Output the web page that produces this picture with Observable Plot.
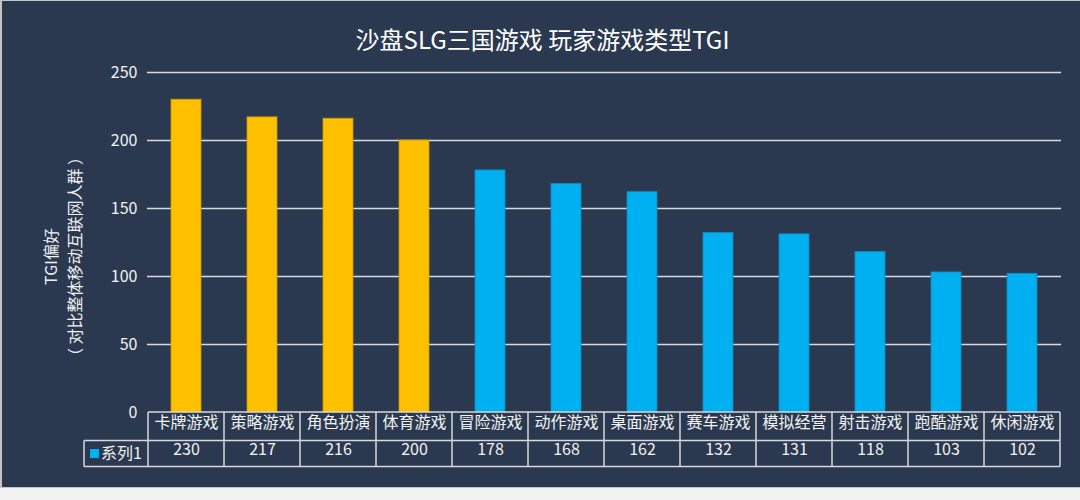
<!DOCTYPE html>
<html><head><meta charset="utf-8">
<script src="https://cdn.jsdelivr.net/npm/d3@7"></script>
<script src="https://cdn.jsdelivr.net/npm/@observablehq/plot@0.6"></script>
<style>
body{margin:0;background:#ffffff;}
#wrap{position:relative;width:1080px;height:500px;background:#f2f2f2;overflow:hidden;}
#chart{position:absolute;left:0;top:0;width:1078px;height:486px;border:1px solid #c4c4c4;border-left-width:2px;}
#chart svg{display:block;}
</style></head><body>
<div id="wrap"><div id="chart"></div></div>
<script>
const title = "沙盘SLG三国游戏 玩家游戏类型TGI";
const yLabelLines = ["TGI偏好", "（ 对比整体移动互联网人群 ）"];
const seriesName = "系列1";
const categories = ["卡牌游戏","策略游戏","角色扮演","体育游戏","冒险游戏","动作游戏","桌面游戏","赛车游戏","模拟经营","射击游戏","跑酷游戏","休闲游戏"];
const values = [230, 217, 216, 200, 178, 168, 162, 132, 131, 118, 103, 102];
const highlight = [true, true, true, true, false, false, false, false, false, false, false, false];
const yTicks = [0, 50, 100, 150, 200, 250];

const BG = "#2b3950";
const YELLOW = "#ffc000";
const BLUE = "#00b0f0";
const LINE = "#d9d9d9";
const TXT = "#f2f2f2";
const FONT = "'Noto Sans CJK SC', 'Open Sans', sans-serif";

const data = categories.map((c, i) => ({cat: c, val: values[i], hi: highlight[i]}));

// Table grid lines + legend cell, positioned from the plot's own x band geometry
function tableMark(index, scales, vals, dims) {
  const {width, height, marginLeft, marginRight, marginBottom} = dims;
  const x = scales.x;
  const step = x(categories[1]) - x(categories[0]);
  const bw = x.bandwidth ? x.bandwidth() : step * 0.4;
  const left = x(categories[0]) + bw / 2 - step / 2;
  const right = left + step * categories.length;
  const yTop = height - marginBottom;
  const yMid = yTop + 28.5;
  const yBot = yTop + 54.5;
  const legendLeft = left - 64;
  const g = d3.create("svg:g").attr("fill", "none").attr("stroke", LINE).attr("stroke-width", 1.5);
  g.append("line").attr("x1", left).attr("x2", right).attr("y1", yTop).attr("y2", yTop);
  g.append("line").attr("x1", legendLeft).attr("x2", right).attr("y1", yMid).attr("y2", yMid);
  g.append("line").attr("x1", legendLeft).attr("x2", right).attr("y1", yBot).attr("y2", yBot);
  g.append("line").attr("x1", legendLeft).attr("x2", legendLeft).attr("y1", yMid).attr("y2", yBot);
  for (let i = 0; i <= categories.length; i++) {
    const xx = left + i * step;
    g.append("line").attr("x1", xx).attr("x2", xx).attr("y1", yTop).attr("y2", yBot);
  }
  g.append("rect").attr("x", legendLeft + 6).attr("y", yMid + 8.5).attr("width", 9).attr("height", 9)
    .attr("fill", BLUE).attr("stroke", "none");
  g.append("text").attr("x", legendLeft + 17).attr("y", (yMid + yBot) / 2).attr("dy", "0.35em")
    .attr("text-anchor", "start")
    .attr("fill", TXT).attr("stroke", "none").attr("font-size", 16).attr("font-family", FONT)
    .text(seriesName);
  return g.node();
}

const chart = Plot.plot({
  width: 1078,
  height: 486,
  marginTop: 71,
  marginBottom: 75,
  marginLeft: 145,
  marginRight: 19,
  style: {background: BG, color: TXT, fontFamily: FONT, fontSize: "16px", overflow: "visible"},
  x: {domain: categories, paddingInner: 0.6, paddingOuter: 0.3, axis: null},
  y: {domain: [0, 250], ticks: yTicks, label: null, tickSize: 0, tickPadding: 10},
  marks: [
    Plot.ruleY(yTicks.filter(t => t > 0), {stroke: LINE, strokeWidth: 1.5}),
    Plot.barY(data, {x: "cat", y: "val", fill: d => d.hi ? YELLOW : BLUE,
      stroke: d => d.hi ? "#c99a00" : "#0a8cc0", strokeWidth: 0.8}),
    Plot.axisY({ticks: yTicks, tickSize: 0, tickPadding: 10, fill: TXT, fontSize: 16, label: null}),
    Plot.text(data, {x: "cat", text: "cat", frameAnchor: "bottom", dy: 15, fill: TXT, fontSize: 16}),
    Plot.text(data, {x: "cat", text: d => String(d.val), frameAnchor: "bottom", dy: 42, fill: TXT, fontSize: 16}),
    Plot.text([title], {frameAnchor: "top", dx: -62, dy: -41, fill: "#ffffff", fontSize: 24}),
    Plot.text([yLabelLines.join("\n")], {frameAnchor: "left", textAnchor: "middle", lineAnchor: "middle", rotate: -90, dx: -86, dy: 14, fill: TXT, fontSize: 16, lineHeight: 1.45})
    , tableMark
  ]
});
document.getElementById("chart").appendChild(chart);
</script>
</body></html>
